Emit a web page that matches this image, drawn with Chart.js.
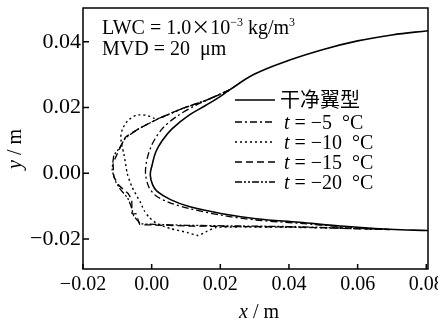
<!DOCTYPE html>
<html>
<head>
<meta charset="utf-8">
<script src="https://cdn.jsdelivr.net/npm/chart.js@4.4.1/dist/chart.umd.min.js"></script>
<style>
  html, body { margin: 0; padding: 0; background: #fff; }
  #wrap { width: 438px; height: 323px; }
</style>
</head>
<body>
<div id="wrap"><canvas id="chart" width="438" height="323"></canvas></div>
<script>
// ticks
const xTicks = [-0.02, 0.0, 0.02, 0.04, 0.06, 0.08];
const yTicks = [-0.02, 0.0, 0.02, 0.04];

// clean airfoil (upper surface from the right, round the nose, lower surface)
const cleanX = [0.0805, 0.07, 0.06, 0.05, 0.04, 0.03, 0.0226, 0.0197, 0.0158, 0.0109, 0.006, 0.0031, 0.0012, 0.0001, -0.0004,
  0.0003, 0.0016, 0.0055, 0.0109, 0.0206, 0.0304, 0.043, 0.055, 0.0693, 0.0805];
const cleanY = [0.0434, 0.0421, 0.0403, 0.0377, 0.0344, 0.0302, 0.0253, 0.0232, 0.0207, 0.0177, 0.0136, 0.0100, 0.0065, 0.0024, -0.0005,
  -0.0035, -0.0055, -0.0080, -0.0101, -0.0123, -0.0138, -0.0149, -0.0160, -0.0170, -0.0174];

// t = -5 C
const ice5X = [0.0226, 0.0128, 0.007, 0.0031, 0.0002, -0.0013, -0.0018, -0.0008, 0.0012, 0.005, 0.0109, 0.0206, 0.0304, 0.043, 0.055, 0.0693];
const ice5Y = [0.0253, 0.0207, 0.0171, 0.0136, 0.0090, 0.0045, 0.0000, -0.0042, -0.0068, -0.0088, -0.0107, -0.0128, -0.0142, -0.0152, -0.0162, -0.0171];

// t = -10 C
const ice10X = [0.0226, 0.0158, 0.0089, 0.0021, 0.0006, -0.0017, -0.0045, -0.0070, -0.0085, -0.0090, -0.0086, -0.0081, -0.0071, -0.0057,
  -0.0032, -0.0022, -0.0008, 0.0016, 0.0055, 0.0104, 0.0135, 0.0158, 0.0187, 0.0250, 0.0400, 0.0550, 0.0693];
const ice10Y = [0.0253, 0.0222, 0.0197, 0.0167, 0.0168, 0.0177, 0.0177, 0.0160, 0.0135, 0.0110, 0.0080, 0.0060, -0.0001, -0.0042,
  -0.0090, -0.0113, -0.0133, -0.0153, -0.0168, -0.0180, -0.0189, -0.0178, -0.0165, -0.0163, -0.0164, -0.0167, -0.0171];

// t = -15 C
const ice15X = [0.0226, 0.0158, 0.0089, 0.0021, -0.0037, -0.0076, -0.0100, -0.0112, -0.0110, -0.0095, -0.0068, -0.0058, -0.0057,
  -0.0045, -0.0035, 0.0000, 0.0100, 0.0250, 0.0400, 0.0550, 0.0693];
const ice15Y = [0.0253, 0.0222, 0.0197, 0.0167, 0.0136, 0.0110, 0.0060, 0.0030, -0.0010, -0.0037, -0.0062, -0.0082, -0.0123,
  -0.0123, -0.0155, -0.0157, -0.0160, -0.0162, -0.0163, -0.0167, -0.0171];

// t = -20 C
const ice20X = [0.0226, 0.0158, 0.0089, 0.0021, -0.0037, -0.0076, -0.0095, -0.0110, -0.0115, -0.0105, -0.0090, -0.0070, -0.0060,
  -0.0052, -0.0032, 0.0010, 0.0100, 0.0250, 0.0400, 0.0550, 0.0693];
const ice20Y = [0.0253, 0.0222, 0.0197, 0.0167, 0.0136, 0.0108, 0.0075, 0.0055, 0.0010, -0.0025, -0.0050, -0.0075, -0.0100,
  -0.0130, -0.0153, -0.0155, -0.0158, -0.0160, -0.0162, -0.0166, -0.0171];

const cleanName = "干净翼型";
const tempLabels = ["−5", "−10", "−15", "−20"];

const serif = '"Liberation Serif", "Times New Roman", "Noto Sans CJK SC", serif';
const cjk = '"Noto Sans CJK SC", sans-serif';

function pts(xs, ys) {
  return xs.map((x, i) => ({ x: x, y: ys[i] }));
}

const styles = [
  { dash: [], width: 1.6, tension: 0.4 },
  { dash: [7, 3, 2, 3], width: 1.3, tension: 0.3 },
  { dash: [2, 3], width: 1.4, tension: 0.2 },
  { dash: [7, 4], width: 1.3, tension: 0.1 },
  { dash: [7, 2, 2, 2, 2, 2], width: 1.3, tension: 0.1 },
];
const series = [pts(cleanX, cleanY), pts(ice5X, ice5Y), pts(ice10X, ice10Y), pts(ice15X, ice15Y), pts(ice20X, ice20Y)];

function fmt(v) {
  return (v < 0 ? "−" : "") + Math.abs(v).toFixed(2);
}

// draw text pieces one after another, returns the end x
function pieces(ctx, x, y, parts) {
  parts.forEach((p) => {
    ctx.font = p[1];
    ctx.fillText(p[0], x, y + (p[2] || 0));
    x += ctx.measureText(p[0]).width;
  });
  return x;
}

// frame, inward ticks, axis titles, legend, annotation
const decor = {
  id: "decor",
  afterDraw(chart) {
    const ctx = chart.ctx;
    const a = chart.chartArea;
    const xs = chart.scales.x, ys = chart.scales.y;
    ctx.save();
    ctx.strokeStyle = "#000";
    ctx.lineWidth = 1.5;
    ctx.setLineDash([]);
    ctx.strokeRect(a.left, a.top, a.right - a.left, a.bottom - a.top);
    ctx.beginPath();
    xs.ticks.forEach((t) => {
      const px = xs.getPixelForValue(t.value);
      ctx.moveTo(px, a.bottom);
      ctx.lineTo(px, a.bottom - 5);
    });
    ys.ticks.forEach((t) => {
      const py = ys.getPixelForValue(t.value);
      ctx.moveTo(a.left, py);
      ctx.lineTo(a.left + 6, py);
    });
    ctx.stroke();

    ctx.fillStyle = "#000";
    ctx.textBaseline = "alphabetic";
    const it20 = "italic 20px " + serif, n20 = "20px " + serif;

    // x title
    ctx.font = it20;
    const wx = ctx.measureText("x").width;
    ctx.font = n20;
    const wr = ctx.measureText(" / m").width;
    pieces(ctx, 259 - (wx + wr) / 2, 318, [["x", it20], [" / m", n20]]);

    // y title
    ctx.save();
    ctx.translate(21, 149);
    ctx.rotate(-Math.PI / 2);
    ctx.font = it20;
    const wy = ctx.measureText("y").width;
    pieces(ctx, -(wy + wr) / 2, 0, [["y", it20], [" / m", n20]]);
    ctx.restore();

    // annotation
    const sup = "12px " + serif;
    pieces(ctx, 102, 34, [
      ["LWC = 1.0", n20], ["×", "19px " + cjk], ["10", n20], ["−3", sup, -8], [" kg/m", n20], ["3", sup, -8],
    ]);
    pieces(ctx, 102, 55, [["MVD = 20  μm", n20]]);

    // legend
    const rowY = [100, 122, 142, 162, 182];
    rowY.forEach((y, i) => {
      const st = styles[i];
      ctx.beginPath();
      ctx.setLineDash(st.dash);
      ctx.lineWidth = st.width;
      ctx.moveTo(235, y);
      ctx.lineTo(275, y);
      ctx.stroke();
      ctx.setLineDash([]);
      if (i === 0) {
        pieces(ctx, 280, y + 7, [[cleanName, "20px " + serif]]);
      } else {
        pieces(ctx, 284, y + 7, [["t", it20], [" = " + tempLabels[i - 1] + "  °C", n20]]);
      }
    });
    ctx.restore();
  },
};

new Chart(document.getElementById("chart").getContext("2d"), {
  type: "scatter",
  data: {
    datasets: series.map((d, i) => ({
      data: d,
      showLine: true,
      borderColor: "#000",
      borderWidth: styles[i].width,
      borderDash: styles[i].dash,
      tension: styles[i].tension,
      pointRadius: 0,
      fill: false,
    })),
  },
  options: {
    responsive: false,
    animation: false,
    layout: { padding: { top: 8, right: 10, left: 0, bottom: 0 } },
    plugins: { legend: { display: false }, tooltip: { enabled: false } },
    scales: {
      x: {
        type: "linear",
        min: -0.02,
        max: 0.0805,
        afterBuildTicks: (s) => { s.ticks = xTicks.map((v) => ({ value: v })); },
        afterFit: (s) => { s.height = 54; s.paddingLeft = 0; s.paddingRight = 0; },
        grid: { display: false, drawTicks: false },
        border: { display: false },
        ticks: { color: "#000", padding: 4, maxRotation: 0, autoSkip: false, font: { family: serif, size: 20 }, callback: fmt },
      },
      y: {
        type: "linear",
        min: -0.0291,
        max: 0.0503,
        afterBuildTicks: (s) => { s.ticks = yTicks.map((v) => ({ value: v })); },
        afterFit: (s) => { s.width = 83; s.paddingTop = 0; s.paddingBottom = 0; },
        grid: { display: false, drawTicks: false },
        border: { display: false },
        ticks: { color: "#000", padding: 2, font: { family: serif, size: 22 }, callback: fmt },
      },
    },
  },
  plugins: [decor],
});
</script>
</body>
</html>
